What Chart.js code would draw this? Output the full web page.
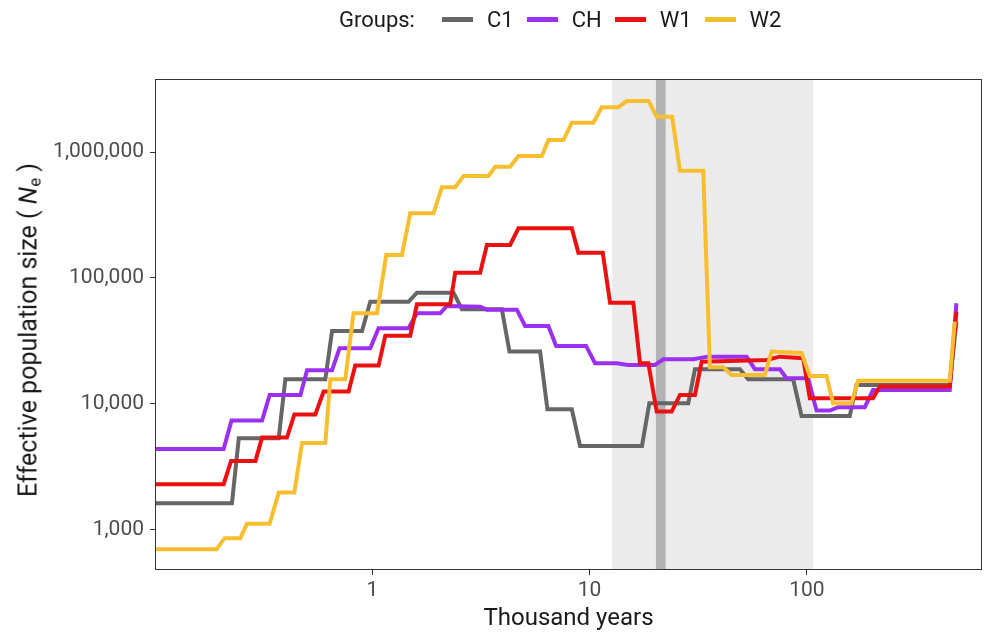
<!DOCTYPE html>
<html>
<head>
<meta charset="utf-8">
<title>Effective population size</title>
<script src="https://cdn.jsdelivr.net/npm/chart.js@4.4.1/dist/chart.umd.min.js"></script>
<style>
  html, body { margin: 0; padding: 0; background: #fff; }
  #wrap { position: relative; width: 987px; height: 637px; font-family: Roboto, sans-serif; }
  #ne-chart { position: absolute; left: 0; top: 0; }
  #legend { position: absolute; left: 339px; top: 7px; display: flex; align-items: center; font-size: 22px; color: #1a1a1a; white-space: nowrap; }
  #legend .title { margin-right: 14px; }
  #legend .key { display: inline-block; width: 31px; height: 5px; margin: 0 14px 0 13px; }
  #y-title { position: absolute; left: 29px; top: 330px; transform: translate(-50%, -50%) rotate(-90deg); font-size: 25px; color: #1a1a1a; white-space: nowrap; }
  #y-title sub { font-size: 17px; vertical-align: -4px; }
</style>
</head>
<body>
<div id="wrap">
  <canvas id="ne-chart" width="987" height="637"></canvas>
  <div id="legend"></div>
  <div id="y-title">Effective population size ( <i>N</i><sub>e</sub> )</div>
</div>
<script>
// --- Data (time in thousand years, Ne) ---
const groups = ['C1', 'CH', 'W1', 'W2'];
const groupColors = ['#666666', '#9B30F0', '#EC1111', '#F7BE2F'];

const c1Times = [0.1, 0.226, 0.243, 0.371, 0.398, 0.608, 0.653, 0.897, 0.979, 1.469, 1.606, 2.365, 2.585, 3.948, 4.279, 5.921, 6.397, 8.284, 9.043, 17.43, 18.84, 28.47, 30.56, 49.2, 53.72, 86.5, 94.56, 157.6, 169.3, 454.6, 488];
const c1Ne = [1630, 1630, 5340, 5340, 15700, 15700, 37960, 37960, 64850, 64850, 76430, 76430, 56450, 56450, 26010, 26010, 9077, 9077, 4640, 4640, 10130, 10130, 18860, 18860, 15700, 15700, 8034, 8034, 14150, 14150, 45000];

const chTimes = [0.1, 0.207, 0.225, 0.311, 0.337, 0.467, 0.501, 0.653, 0.707, 0.979, 1.069, 1.469, 1.606, 2.054, 2.205, 3.138, 3.369, 4.627, 5.051, 6.465, 7.015, 9.636, 10.6, 13.34, 15, 20.01, 21.85, 30, 35, 52.82, 57.67, 75.14, 80.66, 101.4, 110.8, 127.6, 139.3, 184.8, 201.7, 454.6, 488];
const chNe = [4395, 4395, 7370, 7370, 11790, 11790, 18500, 18500, 27680, 27680, 39880, 39880, 52480, 52480, 59970, 59190, 56000, 56000, 41590, 41590, 28860, 28860, 21040, 21040, 20390, 20390, 22630, 22630, 23730, 23730, 18860, 18860, 16000, 16000, 8846, 8846, 9415, 9415, 12910, 12910, 63000];

const w1Times = [0.1, 0.207, 0.224, 0.29, 0.311, 0.405, 0.438, 0.547, 0.597, 0.778, 0.835, 1.069, 1.148, 1.495, 1.606, 2.284, 2.408, 3.138, 3.369, 4.31, 4.706, 8.284, 8.882, 11.5, 12.43, 15.9, 17.07, 18.64, 20.37, 23.88, 26.07, 30.56, 32.81, 65.28, 75.14, 96.17, 103.2, 201.7, 216.6, 454.6, 488];
const w1Ne = [2305, 2305, 3528, 3528, 5402, 5402, 8250, 8250, 12520, 12520, 20140, 20140, 34840, 34840, 61860, 61860, 110000, 110000, 182800, 182800, 248000, 248000, 158800, 158800, 63680, 63680, 21040, 21040, 8687, 8687, 11790, 11790, 21660, 22350, 23730, 23050, 11100, 11100, 13720, 13720, 54030];

const w2Times = [0.1, 0.192, 0.209, 0.247, 0.265, 0.337, 0.371, 0.438, 0.475, 0.608, 0.641, 0.751, 0.82, 1.051, 1.16, 1.369, 1.495, 1.913, 2.091, 2.408, 2.63, 3.426, 3.678, 4.31, 4.706, 6.029, 6.465, 7.579, 8.284, 10.41, 11.38, 13.57, 14.83, 18.7, 20.37, 24, 26.07, 33.37, 35.81, 41.22, 45.07, 64.12, 68.82, 94.56, 103.2, 123.2, 132.1, 160.5, 172.2, 454.6, 479.3];
const w2Ne = [700, 700, 859, 859, 1116, 1116, 1977, 1977, 4900, 4900, 15700, 15700, 52480, 52480, 152200, 152200, 326200, 326200, 524600, 524600, 645000, 645000, 764300, 764300, 929600, 929600, 1245000, 1245000, 1708000, 1708000, 2263000, 2263000, 2540000, 2540000, 1907000, 1907000, 710600, 710600, 19560, 19560, 16990, 16990, 26010, 25400, 16690, 16690, 10130, 10130, 15300, 15300, 45000];

const xTicks = [1, 10, 100];
const yTicks = [1000, 10000, 100000, 1000000];

// shaded periods (thousand years)
const wideBand = [12.7, 107];
const narrowBand = [20.2, 22.4];

const seriesTimes = [c1Times, chTimes, w1Times, w2Times];
const seriesNe = [c1Ne, chNe, w1Ne, w2Ne];

const toPoints = (times, values) => times.map((t, i) => ({ x: t, y: values[i] }));

// --- Background bands + panel frame ---
const bandsPlugin = {
    id: 'bands',
    beforeDatasetsDraw(chart) {
        const { ctx, chartArea, scales } = chart;
        const fillBand = (range, color) => {
            const x0 = scales.x.getPixelForValue(range[0]);
            const x1 = scales.x.getPixelForValue(range[1]);
            ctx.fillStyle = color;
            ctx.fillRect(x0, chartArea.top, x1 - x0, chartArea.bottom - chartArea.top);
        };
        ctx.save();
        fillBand(wideBand, '#ebebeb');
        fillBand(narrowBand, '#b3b3b3');
        ctx.restore();
    },
    afterDraw(chart) {
        const { ctx, chartArea } = chart;
        ctx.save();
        ctx.strokeStyle = '#333333';
        ctx.lineWidth = 1;
        ctx.strokeRect(chartArea.left + 0.5, chartArea.top + 0.5,
            chartArea.right - chartArea.left - 1, chartArea.bottom - chartArea.top - 1);
        ctx.restore();
    }
};

const datasets = groups.map((name, i) => ({
    label: name,
    data: toPoints(seriesTimes[i], seriesNe[i]),
    borderColor: groupColors[i],
    backgroundColor: groupColors[i],
    borderWidth: 4,
    pointRadius: 0,
    tension: 0,
    order: groups.length - i
}));

new Chart(document.getElementById('ne-chart'), {
    type: 'line',
    data: { datasets },
    options: {
        responsive: false,
        animation: false,
        layout: { padding: { top: 79, right: 5, left: 0, bottom: 0 } },
        plugins: {
            legend: { display: false },
            tooltip: { enabled: false }
        },
        scales: {
            x: {
                type: 'logarithmic',
                min: 0.1,
                max: 640,
                afterBuildTicks: (scale) => { scale.ticks = xTicks.map(v => ({ value: v })); },
                afterFit: (scale) => { scale.height = 67; },
                ticks: {
                    callback: (v) => String(v),
                    color: '#4d4d4d',
                    font: { family: 'Roboto', size: 21 },
                    padding: 3,
                    maxRotation: 0
                },
                grid: { drawOnChartArea: false, tickLength: 5, color: '#333333' },
                border: { display: false },
                title: {
                    display: true,
                    text: 'Thousand years',
                    color: '#1a1a1a',
                    font: { family: 'Roboto', size: 24 },
                    padding: { top: 0, bottom: 4 }
                }
            },
            y: {
                type: 'logarithmic',
                min: 480,
                max: 3800000,
                afterBuildTicks: (scale) => { scale.ticks = yTicks.map(v => ({ value: v })); },
                afterFit: (scale) => { scale.width = 155; },
                ticks: {
                    callback: (v) => Number(v).toLocaleString('en-US'),
                    color: '#4d4d4d',
                    font: { family: 'Roboto', size: 21 },
                    padding: 6
                },
                grid: { drawOnChartArea: false, tickLength: 5, color: '#333333' },
                border: { display: false }
            }
        }
    },
    plugins: [bandsPlugin]
});

// --- Legend ---
const legend = document.getElementById('legend');
legend.innerHTML = '<span class="title">Groups:</span>' + groups.map((name, i) =>
    `<span class="key" style="background:${groupColors[i]}"></span><span>${name}</span>`
).join('');
</script>
</body>
</html>
